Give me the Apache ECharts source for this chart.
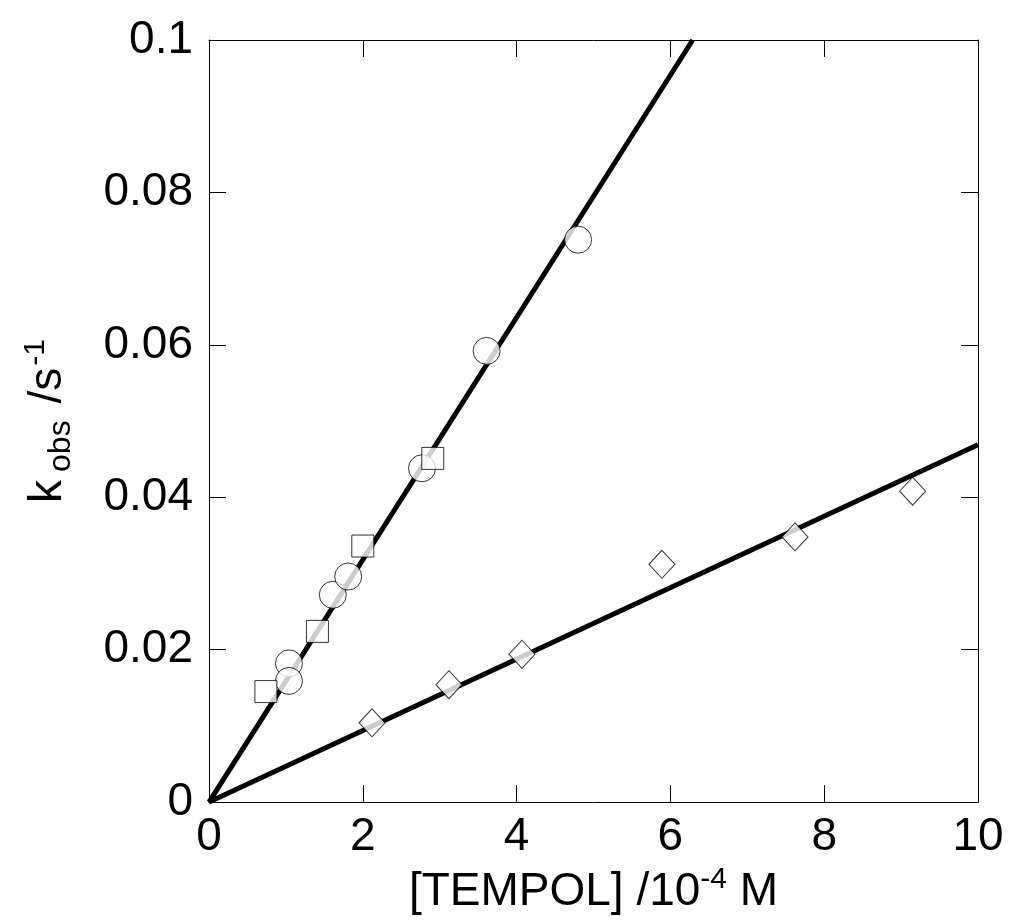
<!DOCTYPE html>
<html>
<head>
<meta charset="utf-8">
<script src="https://cdn.jsdelivr.net/npm/echarts@6/dist/echarts.min.js"></script>
<style>
  html, body { margin: 0; padding: 0; background: #fff; }
  #chart { width: 1010px; height: 920px; }
</style>
</head>
<body>
<div id="chart"></div>
<script>
// data
var circleX = [1.04, 1.04, 1.61, 1.81, 2.77, 3.61, 4.80]
var circleY = [0.0182, 0.0159, 0.0272, 0.0296, 0.0438, 0.0592, 0.0738]
var squareX = [0.74, 1.41, 2.00, 2.91]
var squareY = [0.0145, 0.0224, 0.0336, 0.0451]
var diamondX = [2.12, 3.12, 4.07, 5.89, 7.62, 9.15]
var diamondY = [0.0104, 0.0154, 0.0194, 0.0312, 0.0348, 0.0408]
// fitted lines (end points)
var fitUpperX = [0, 6.29]
var fitUpperY = [0, 0.1]
var fitLowerX = [0, 10]
var fitLowerY = [0, 0.0469]
var xTicks = [0, 2, 4, 6, 8, 10]
var yTicks = [0, 0.02, 0.04, 0.06, 0.08, 0.1]

function pairs (xs, ys) {
  return xs.map(function (x, i) { return [x, ys[i]] })
}

var font = '"Liberation Sans", Arial, sans-serif'
var axisLine = { show: true, onZero: false, lineStyle: { color: '#000', width: 1 } }
var tick = { show: true, inside: true, length: 17, lineStyle: { color: '#000', width: 1 } }

var markerStyle = { color: '#fff', borderColor: '#000', borderWidth: 1 }

var option = {
  animation: false,
  backgroundColor: '#fff',
  grid: { left: 209, right: 32, top: 40, bottom: 113, containLabel: false },
  xAxis: [
    {
      type: 'value', min: 0, max: 10, interval: 2,
      axisLine: axisLine, axisTick: tick, splitLine: { show: false },
      axisLabel: { margin: 12, fontSize: 46, color: '#000', fontFamily: font },
      name: '{a|[TEMPOL] /10}{s|-4}{a| M}',
      nameLocation: 'middle', nameGap: 58,
      nameTextStyle: {
        fontFamily: font, color: '#000',
        rich: {
          a: { fontSize: 46, fontFamily: font, color: '#000' },
          s: { fontSize: 30, fontFamily: font, color: '#000', padding: [0, 0, 24, 0] }
        }
      }
    },
    {
      type: 'value', min: 0, max: 10, interval: 2, position: 'top',
      axisLine: axisLine, axisTick: tick, axisLabel: { show: false }, splitLine: { show: false }
    }
  ],
  yAxis: [
    {
      type: 'value', min: 0, max: 0.1, interval: 0.02,
      axisLine: axisLine, axisTick: tick, splitLine: { show: false },
      axisLabel: { margin: 16, fontSize: 46, color: '#000', fontFamily: font },
      name: '{a|k}{b|obs}{a| /s}{s|-1}',
      nameLocation: 'middle', nameGap: 132, nameRotate: 90,
      nameTextStyle: {
        fontFamily: font, color: '#000',
        rich: {
          a: { fontSize: 46, fontFamily: font, color: '#000' },
          b: { fontSize: 32, fontFamily: font, color: '#000', padding: [26, 4, 0, 8] },
          s: { fontSize: 30, fontFamily: font, color: '#000', padding: [0, 0, 24, 2] }
        }
      }
    },
    {
      type: 'value', min: 0, max: 0.1, interval: 0.02, position: 'right',
      axisLine: axisLine, axisTick: tick, axisLabel: { show: false }, splitLine: { show: false }
    }
  ],
  series: [
    {
      type: 'line', data: pairs(fitUpperX, fitUpperY), showSymbol: false,
      lineStyle: { color: '#000', width: 5 }, z: 1
    },
    {
      type: 'line', data: pairs(fitLowerX, fitLowerY), showSymbol: false,
      lineStyle: { color: '#000', width: 5 }, z: 1
    },
    {
      type: 'scatter', data: pairs(circleX, circleY), symbol: 'circle', symbolSize: 27,
      itemStyle: markerStyle, z: 3
    },
    {
      type: 'scatter', data: pairs(squareX, squareY), symbol: 'rect', symbolSize: 22,
      itemStyle: markerStyle, z: 4
    },
    {
      type: 'scatter', data: pairs(diamondX, diamondY), symbol: 'diamond', symbolSize: [26, 28],
      itemStyle: markerStyle, z: 4
    }
  ]
}

var myChart = echarts.init(document.getElementById('chart'))
myChart.setOption(option)
</script>
</body>
</html>
